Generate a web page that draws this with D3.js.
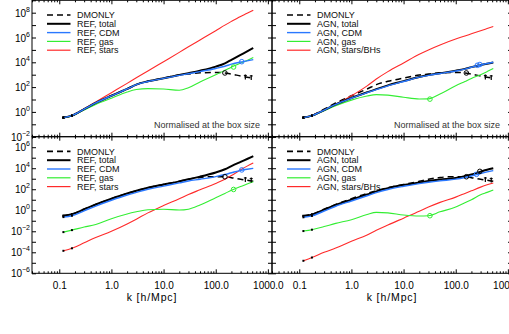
<!DOCTYPE html>
<html>
<head>
<meta charset="utf-8">
<script src="https://cdn.jsdelivr.net/npm/d3@7"></script>
<style>
  body { margin: 0; background: #fff; }
  text { font-family: "Liberation Sans", Arial, sans-serif; }
</style>
</head>
<body>
<script>
// k grid shared by every curve, h/Mpc
const kVals = [0.12, 0.175, 0.3, 0.5, 1, 2, 3, 5, 10, 20, 30, 50, 100, 150, 200, 300, 400, 525];

// curves are stored as log10 of the plotted value
// top row: normalised at the box size
const dmoNorm      = [-0.46,-0.30,0.22,0.72,1.30,1.85,2.20,2.47,2.72,2.97,3.05,3.15,3.18,3.14,3.05,2.90,2.80,2.72];
const refNormTotal = [-0.46,-0.30,0.22,0.72,1.30,1.85,2.20,2.47,2.72,2.97,3.12,3.32,3.65,3.92,4.20,4.60,4.88,5.15];
const refNormCDM   = [-0.46,-0.30,0.22,0.72,1.30,1.85,2.20,2.45,2.70,2.95,3.08,3.25,3.50,3.68,3.85,4.02,4.12,4.22];
const refNormGas   = [-0.46,-0.32,0.15,0.60,1.10,1.60,1.80,1.88,1.85,1.74,1.95,2.42,3.00,3.35,3.60,3.95,4.15,4.38];
const refNormStars = [-0.46,-0.30,0.25,0.80,1.55,2.30,2.75,3.30,4.05,4.80,5.25,5.80,6.55,7.00,7.30,7.70,7.95,8.20];
const agnNormTotal = [-0.46,-0.30,0.15,0.60,1.12,1.58,1.84,2.14,2.48,2.82,2.97,3.12,3.32,3.47,3.61,3.78,3.89,3.98];
const agnNormCDM   = [-0.46,-0.30,0.15,0.60,1.10,1.55,1.80,2.10,2.45,2.80,2.95,3.10,3.30,3.45,3.60,3.78,3.90,4.00];
const agnNormGas   = [-0.46,-0.32,0.10,0.50,0.95,1.28,1.39,1.35,1.18,1.04,1.05,1.45,2.10,2.45,2.70,3.00,3.25,3.50];
const agnNormStars = [-0.46,-0.30,0.15,0.60,1.30,2.10,2.65,3.25,3.95,4.65,5.00,5.40,5.88,6.12,6.30,6.55,6.72,6.88];

// bottom row: absolute
const dmoAbs       = [-0.52,-0.38,0.10,0.55,1.10,1.60,1.85,2.15,2.45,2.75,2.95,3.12,3.20,3.19,3.10,2.94,2.85,2.75];
const refAbsTotal  = [-0.52,-0.38,0.10,0.55,1.10,1.60,1.85,2.15,2.45,2.75,2.95,3.20,3.60,3.90,4.20,4.60,4.88,5.15];
const refAbsCDM    = [-0.65,-0.52,-0.05,0.40,0.95,1.45,1.70,2.00,2.30,2.60,2.78,2.95,3.20,3.40,3.57,3.80,3.90,3.99];
const refAbsGas    = [-2.08,-1.89,-1.60,-1.35,-0.80,-0.35,-0.15,0.05,0.10,0.02,0.10,0.50,1.20,1.60,1.90,2.25,2.50,2.71];
const refAbsStars  = [-3.86,-3.62,-3.10,-2.60,-2.00,-1.30,-0.85,-0.25,0.45,1.10,1.50,1.95,2.55,2.95,3.30,3.85,4.20,4.50];
const agnAbsTotal  = [-0.55,-0.42,0.05,0.50,1.00,1.50,1.80,2.10,2.40,2.65,2.78,2.92,3.08,3.25,3.40,3.67,3.85,3.99];
const agnAbsCDM    = [-0.67,-0.54,-0.07,0.38,0.88,1.38,1.68,1.98,2.28,2.53,2.66,2.80,2.96,3.12,3.26,3.50,3.65,3.77];
const agnAbsGas    = [-1.98,-1.85,-1.55,-1.25,-0.90,-0.40,-0.20,-0.25,-0.45,-0.55,-0.52,-0.15,0.30,0.72,1.00,1.48,1.70,1.92];
const agnAbsStars  = [-4.81,-4.50,-4.00,-3.60,-2.95,-2.35,-1.90,-1.40,-0.75,-0.10,0.30,0.75,1.25,1.60,1.85,2.20,2.42,2.60];

// open circle markers: [k, log10 value, series]
const refNormCircles = [[150, 3.14, "dmo"], [316, 4.05, "cdm"], [220, 3.62, "gas"]];
const agnNormCircles = [[160, 3.14, "dmo"], [260, 3.76, "cdm"], [290, 3.82, "cdm"], [32, 1.03, "gas"]];
const refAbsCircles  = [[150, 3.19, "dmo"], [316, 3.84, "cdm"], [220, 1.98, "gas"]];
const agnAbsCircles  = [[160, 3.19, "dmo"], [250, 3.42, "cdm"], [290, 3.70, "total"], [32, -0.52, "gas"]];

// small error marks at the end of DMONLY: [k, log10 value]
const dmoNormErr = [[370, 2.78], [480, 2.74]];
const dmoAbsErr  = [[370, 2.88], [480, 2.82]];

const xTickVals = [0.1, 1, 10, 100, 1000];
const xTickLabels = ["0.1", "1.0", "10.0", "100.0", "1000.0"];
const yTicksTop = [-2, 0, 2, 4, 6, 8];
const yTicksBottom = [-6, -4, -2, 0, 2, 4, 6];

const colors = { dmo: "#000", total: "#000", cdm: "#2a78ff", gas: "#33ee33", stars: "#ff2a2a" };

const W = 509, H = 334;
const panelW = 240;
const colX = [32, 272];
const rowY = [[0.3, 136.7], [136.7, 273.3]];

const svg = d3.select("body").append("svg").attr("width", W).attr("height", H);

const panels = [
  { col: 0, row: 0, tag: "REF", starName: "stars", dmo: dmoNorm, total: refNormTotal, cdm: refNormCDM, gas: refNormGas, stars: refNormStars, circles: refNormCircles, err: dmoNormErr, note: true },
  { col: 1, row: 0, tag: "AGN", starName: "stars/BHs", dmo: dmoNorm, total: agnNormTotal, cdm: agnNormCDM, gas: agnNormGas, stars: agnNormStars, circles: agnNormCircles, err: dmoNormErr, note: true },
  { col: 0, row: 1, tag: "REF", starName: "stars", dmo: dmoAbs, total: refAbsTotal, cdm: refAbsCDM, gas: refAbsGas, stars: refAbsStars, circles: refAbsCircles, err: dmoAbsErr, note: false },
  { col: 1, row: 1, tag: "AGN", starName: "stars/BHs", dmo: dmoAbs, total: agnAbsTotal, cdm: agnAbsCDM, gas: agnAbsGas, stars: agnAbsStars, circles: agnAbsCircles, err: dmoAbsErr, note: false }
];

panels.forEach(p => drawPanel(p));

function drawPanel(p) {
  const x0 = colX[p.col];
  const [yTop, yBot] = rowY[p.row];
  const x = d3.scaleLog().domain([0.03, 1200]).range([x0, x0 + panelW]);
  const y = p.row === 0
    ? d3.scaleLog().domain([1e-2, 1e9]).range([yBot, yTop])
    : d3.scaleLog().domain([1e-6, 1e7]).range([yBot, yTop]);

  const clipId = `clip-${p.col}-${p.row}`;
  svg.append("clipPath").attr("id", clipId)
    .append("rect").attr("x", x0).attr("y", yTop).attr("width", panelW).attr("height", yBot - yTop);

  const g = svg.append("g").attr("clip-path", `url(#${clipId})`);
  const line = d3.line()
    .x(d => x(d[0]))
    .y(d => y(Math.pow(10, d[1])))
    .curve(d3.curveMonotoneX);
  const pts = arr => kVals.map((k, i) => [k, arr[i]]);

  const series = [
    { key: "dmo", w: 1.5, dash: "6,4" },
    { key: "stars", w: 1.1 },
    { key: "gas", w: 1.1 },
    { key: "total", w: 2 },
    { key: "cdm", w: 1.4 }
  ];
  series.forEach(s => {
    g.append("path")
      .attr("d", line(pts(p[s.key])))
      .attr("fill", "none")
      .attr("stroke", colors[s.key])
      .attr("stroke-width", s.w)
      .attr("stroke-dasharray", s.dash || null);
    // little black point markers at the first k values
    g.selectAll(null).data(pts(p[s.key]).slice(0, 2)).enter().append("rect")
      .attr("x", d => x(d[0]) - 1).attr("y", d => y(Math.pow(10, d[1])) - 1)
      .attr("width", 2).attr("height", 2).attr("fill", "#000");
  });

  g.selectAll(null).data(p.circles).enter().append("circle")
    .attr("cx", d => x(d[0]))
    .attr("cy", d => y(Math.pow(10, d[1])))
    .attr("r", 2.3)
    .attr("fill", "none")
    .attr("stroke", d => colors[d[2]])
    .attr("stroke-width", 1);

  p.err.forEach(d => {
    const cx = x(d[0]), cy = y(Math.pow(10, d[1]));
    g.append("line").attr("x1", cx).attr("x2", cx).attr("y1", cy - 3).attr("y2", cy + 2)
      .attr("stroke", "#000").attr("stroke-width", 1.2);
    g.append("line").attr("x1", cx - 1.5).attr("x2", cx + 1.5).attr("y1", cy - 2).attr("y2", cy - 2)
      .attr("stroke", "#000").attr("stroke-width", 1);
  });

  // frame
  svg.append("rect")
    .attr("x", x0).attr("y", yTop).attr("width", panelW).attr("height", yBot - yTop)
    .attr("fill", "none").attr("stroke", "#000").attr("stroke-width", 1);

  // x ticks (inward) on bottom and top edges
  const minor = x.ticks().filter(v => !xTickVals.includes(v));
  const axes = [
    { gen: d3.axisBottom, yPos: yBot },
    { gen: d3.axisTop, yPos: yTop }
  ];
  axes.forEach(a => {
    svg.append("g").attr("transform", `translate(0,${a.yPos})`)
      .call(a.gen(x).tickValues(minor).tickSize(-2).tickFormat(""))
      .call(s => s.select(".domain").remove());
    svg.append("g").attr("transform", `translate(0,${a.yPos})`)
      .call(a.gen(x).tickValues(xTickVals).tickSize(-4).tickFormat(""))
      .call(s => s.select(".domain").remove());
  });

  if (p.row === 1) {
    const ax = svg.append("g").attr("transform", `translate(0,${yBot})`)
      .call(d3.axisBottom(x).tickValues(xTickVals).tickSize(0).tickPadding(8.5)
        .tickFormat((d, i) => xTickLabels[i]));
    ax.select(".domain").remove();
    ax.selectAll("text").attr("font-size", 10).attr("fill", "#000")
      .attr("font-family", "'Liberation Sans', Arial, sans-serif");
    svg.append("text")
      .attr("x", x0 + panelW / 2).attr("y", 301)
      .attr("text-anchor", "middle").attr("font-size", 10.5).attr("letter-spacing", 0.9)
      .text("k [h/Mpc]");
  }

  // y ticks every decade, inward on both sides
  const yDom = y.domain().map(Math.log10);
  const decades = d3.range(Math.ceil(yDom[0]), Math.floor(yDom[1]) + 1).map(e => Math.pow(10, e));
  svg.append("g").attr("transform", `translate(${x0},0)`)
    .call(d3.axisLeft(y).tickValues(decades).tickSize(-4).tickFormat(""))
    .call(s => s.select(".domain").remove());
  svg.append("g").attr("transform", `translate(${x0 + panelW},0)`)
    .call(d3.axisRight(y).tickValues(decades).tickSize(-4).tickFormat(""))
    .call(s => s.select(".domain").remove());

  if (p.col === 0) {
    const labs = p.row === 0 ? yTicksTop : yTicksBottom;
    labs.forEach(e => {
      const t = svg.append("text")
        .attr("x", 30).attr("y", y(Math.pow(10, e)) + 4)
        .attr("text-anchor", "end").attr("font-size", 10);
      t.append("tspan").text("10");
      t.append("tspan").attr("dy", -5).attr("font-size", 7).text(String(e).replace("-", "\u2212"));
    });
  }

  // legend
  const legend = [
    { key: "dmo", label: "DMONLY", w: 1.6, dash: "6,4" },
    { key: "total", label: `${p.tag}, total`, w: 2 },
    { key: "cdm", label: `${p.tag}, CDM`, w: 1.4 },
    { key: "gas", label: `${p.tag}, gas`, w: 1.2 },
    { key: "stars", label: `${p.tag}, ${p.starName}`, w: 1.2 }
  ];
  legend.forEach((d, i) => {
    const ly = yTop + 14.7 + i * 8.8;
    svg.append("line")
      .attr("x1", x0 + 15).attr("x2", x0 + 38.5).attr("y1", ly).attr("y2", ly)
      .attr("stroke", colors[d.key]).attr("stroke-width", d.w)
      .attr("stroke-dasharray", d.dash || null);
    svg.append("text")
      .attr("x", x0 + 45).attr("y", ly + 3.2)
      .attr("font-size", 9).attr("fill", "#111")
      .text(d.label);
  });

  if (p.note) {
    svg.append("text")
      .attr("x", x0 + panelW - 12).attr("y", 128)
      .attr("text-anchor", "end").attr("font-size", 9).attr("fill", "#333")
      .text("Normalised at the box size");
  }
}
</script>
</body>
</html>
